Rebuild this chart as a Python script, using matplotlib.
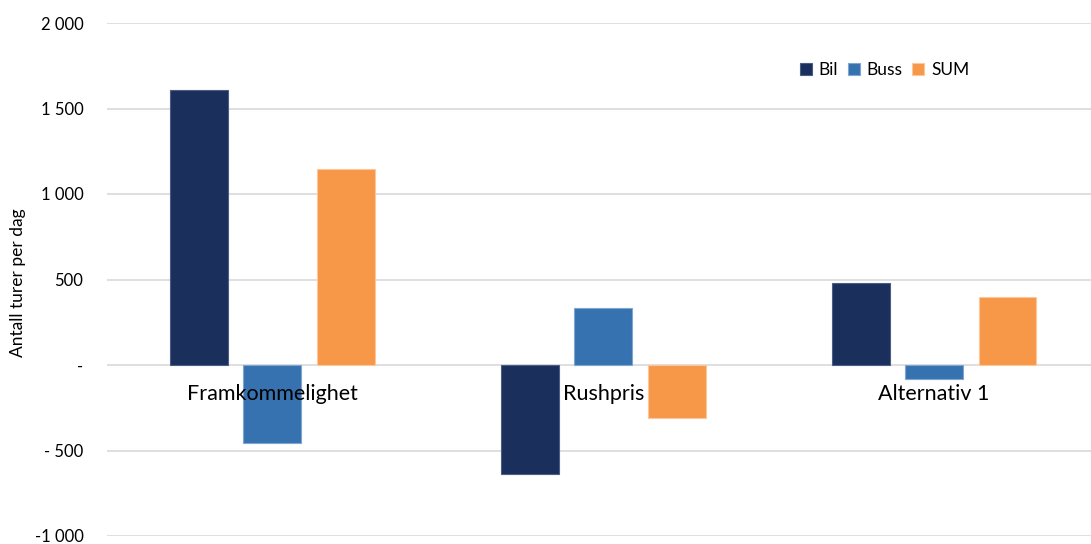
import matplotlib.pyplot as plt
import numpy as np

# === Data ===
categories = ['Framkommelighet', 'Rushpris', 'Alternativ 1']
series = ['Bil', 'Buss', 'SUM']
bil = [1608, -637, 480]
buss = [-456, 333, -80]
sum_vals = [1146, -308, 398]
yticks = [-1000, -500, 0, 500, 1000, 1500, 2000]
ytick_labels = ['-1 000', '- 500', '-', '500', '1 000', '1 500', '2 000']

colors = ['#1A2F5C', '#3772B0', '#F79748']
edges = ['#4A5E85', '#7FA6D0', '#FBC79B']

plt.rcParams['font.family'] = ['Lato', 'DejaVu Sans']

fig = plt.figure(figsize=(10.91, 5.44), dpi=100)
ax = fig.add_axes([107 / 1091, 8 / 544, 992.5 / 1091, 513 / 544])

x = np.arange(len(categories))
width = 0.175
offset = 0.222
for i, (vals, name) in enumerate(zip([bil, buss, sum_vals], series)):
    ax.bar(x + (i - 1) * offset, vals, width=width, color=colors[i],
           edgecolor=edges[i], linewidth=0.8, label=name, zorder=2)

ax.set_xlim(-0.5, len(categories) - 0.5)
ax.set_ylim(-1000, 2000)
ax.set_yticks(yticks)
ax.set_yticklabels(ytick_labels, fontsize=12)
ax.tick_params(axis='y', length=0, pad=17)
ax.set_xticks([])
ax.grid(axis='y', color='#D9D9D9', linewidth=1.2, zorder=0)
ax.set_axisbelow(True)
for s in ax.spines.values():
    s.set_visible(False)

# category labels just under zero line, drawn over the bars
for xi, cat in zip(x, categories):
    ax.annotate(cat, (xi, 0), xytext=(0, -14), textcoords='offset points',
                ha='center', va='top', fontsize=15.5, zorder=5)

fig.text(18 / 1091, 1 - 283 / 544, 'Antall turer per dag', rotation=90,
         ha='center', va='center', fontsize=12.5)

ax.legend(loc='upper left', bbox_to_anchor=(0.682, 0.955), ncol=3, frameon=False,
          fontsize=12.5, handlelength=0.7, handleheight=0.7, handletextpad=0.4,
          columnspacing=0.55)

plt.savefig('out.png', dpi=100)
